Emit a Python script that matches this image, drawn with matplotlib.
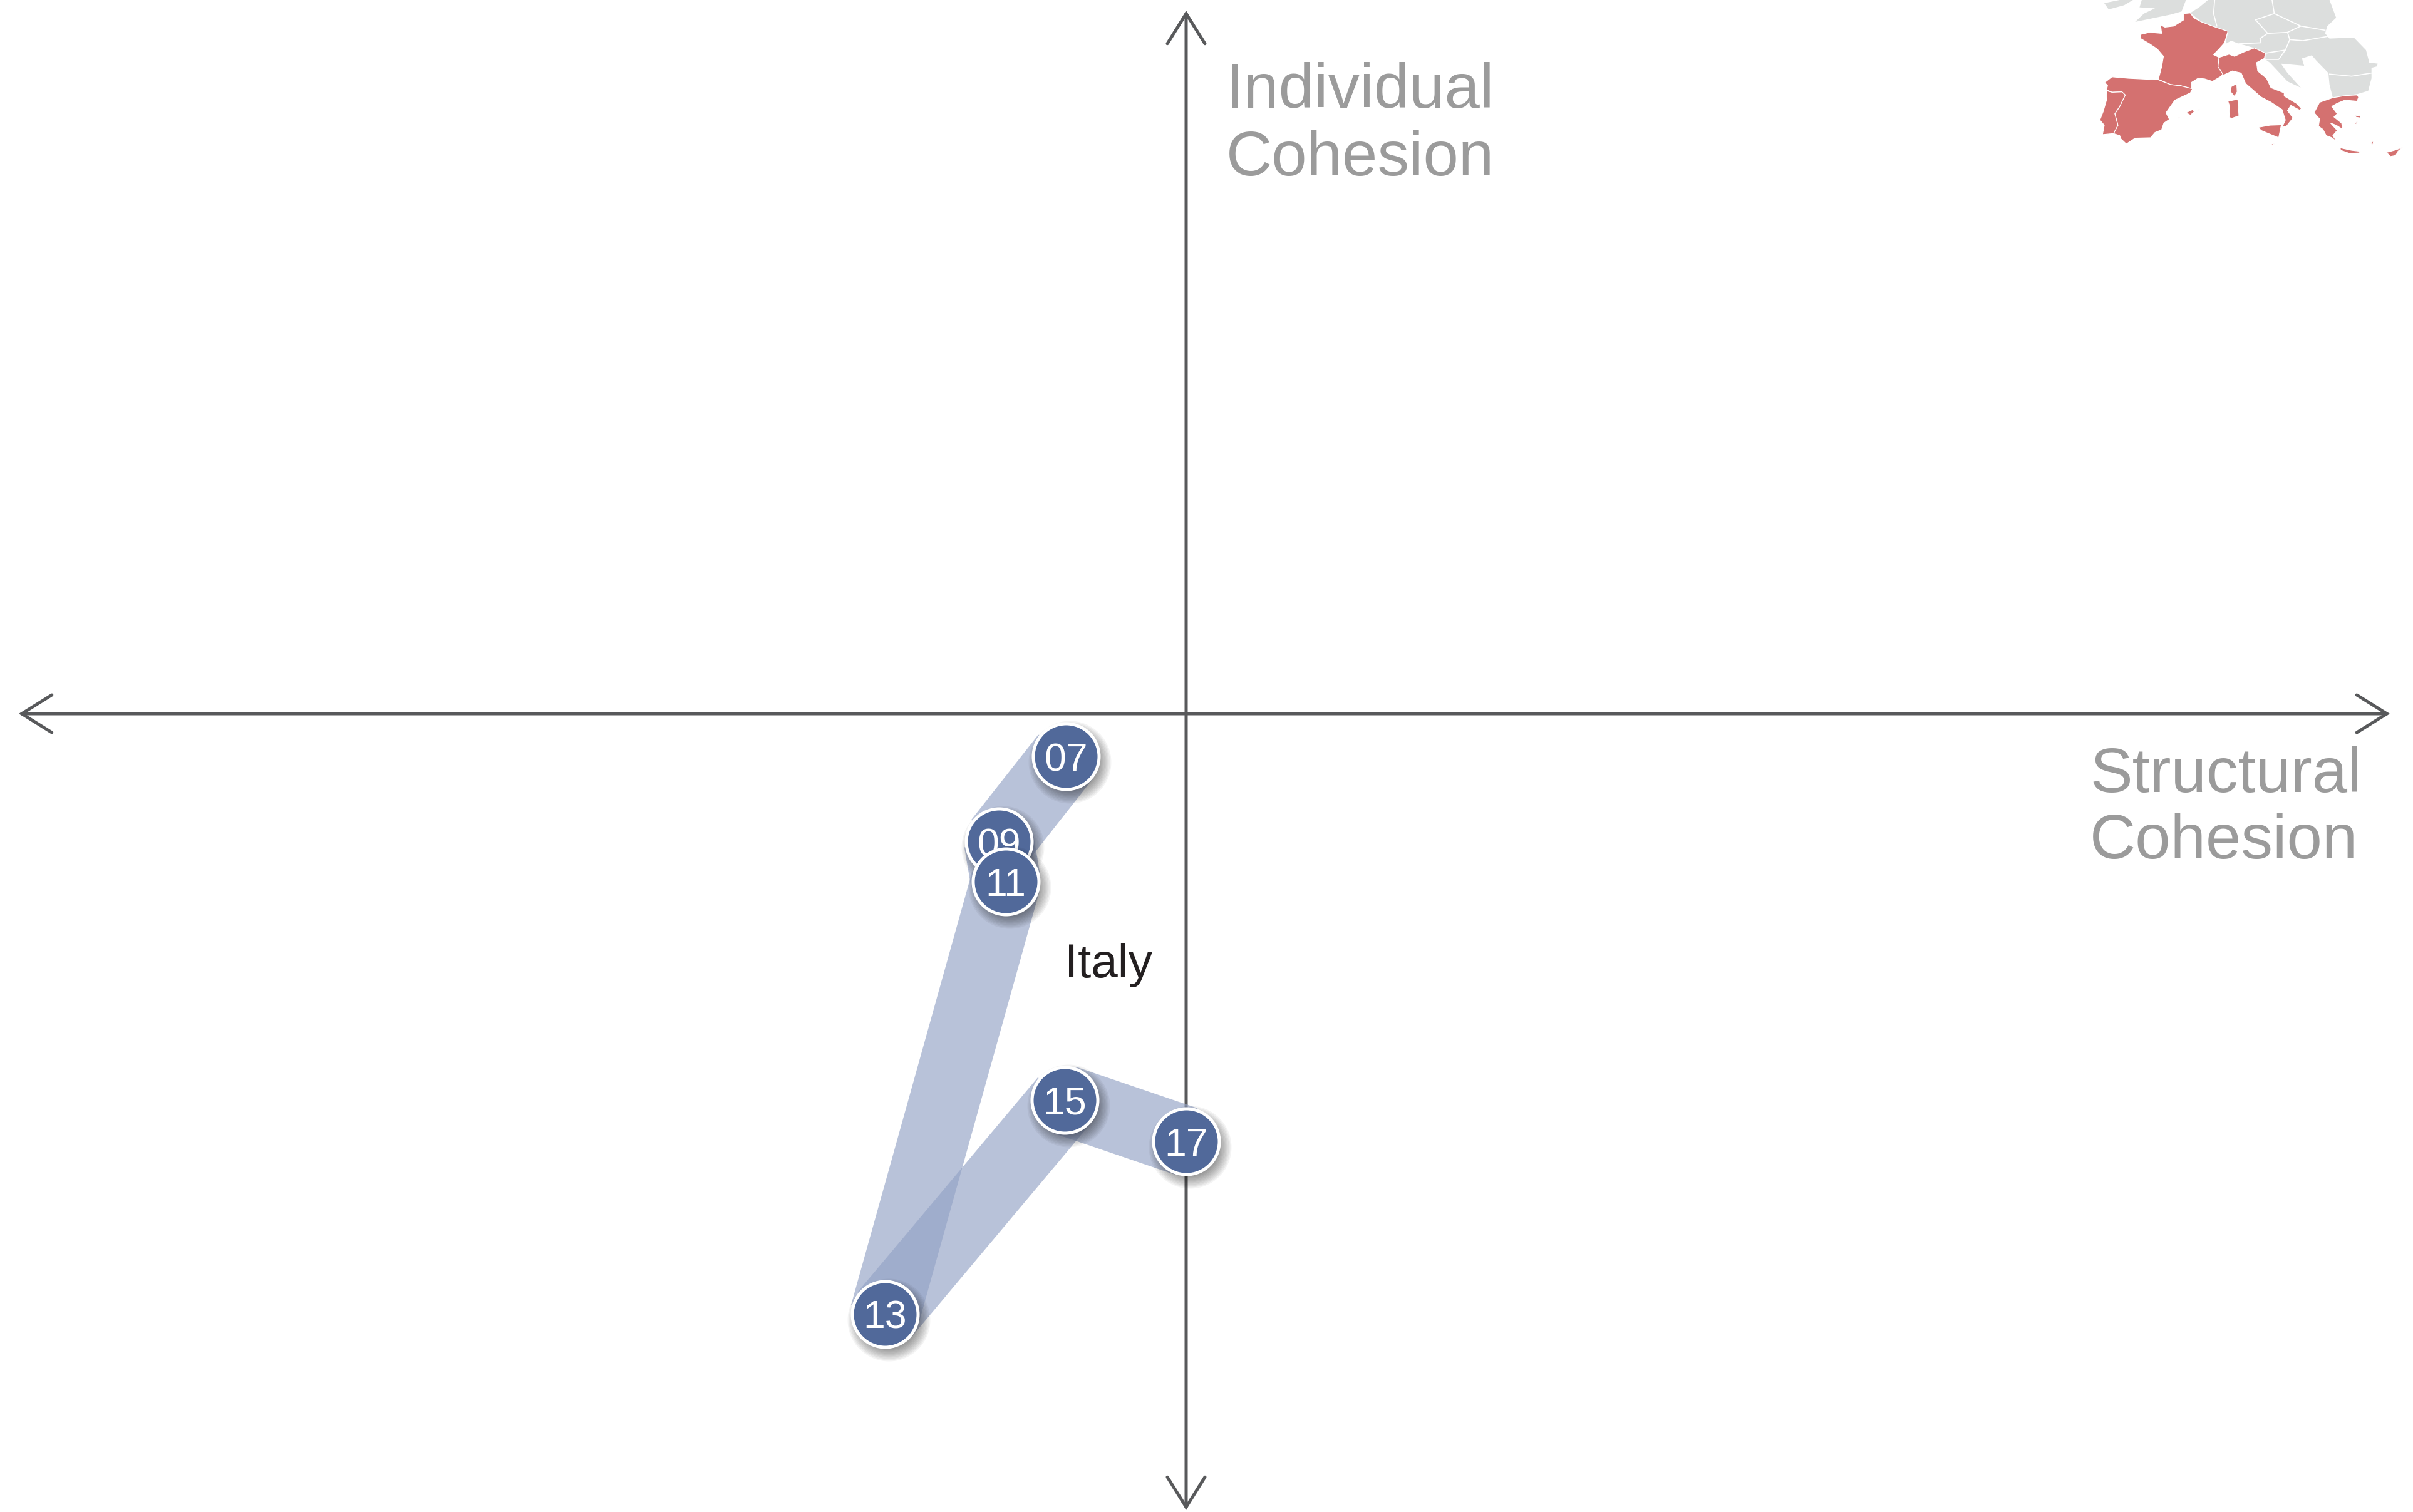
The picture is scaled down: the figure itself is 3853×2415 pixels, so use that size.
import numpy as np
import matplotlib
matplotlib.use('Agg')
import matplotlib.pyplot as plt
from matplotlib.patches import Polygon
from matplotlib.transforms import ScaledTranslation

# values, 1 unit = 100 px of the picture, origin where the axes cross
years = ['07', '09', '11', '13', '15', '17']
structural = [-1.92, -2.99, -2.88, -4.81, -1.94, 0.0]
individual = [-0.68, -2.04, -2.68, -9.59, -6.17, -6.83]
country = 'Italy'

# map outlines, traced in the crop of the top right corner
france = [(530,65),(560,62),(575,85),(610,105),(660,125),(730,150),(715,205),(690,235),(665,262),(690,275),(685,320),(710,350),(700,365),(660,390),(625,378),(595,375),(565,395),(565,425),(515,410),(470,405),(415,380),(430,320),(438,270),(410,235),(375,210),(335,185),(335,165),(375,155),(430,160),(425,120),(445,130),(485,125),(530,95)]
spain = [(205,368),(280,375),(415,382),(470,405),(520,412),(570,425),(560,445),(490,480),(450,540),(465,572),(440,590),(430,622),(400,635),(380,660),(310,662),(270,690),(245,665),(240,650),(212,640),(232,600),(218,545),(240,510),(265,455),(250,440),(205,442),(180,430),(185,410),(172,395)]
portugal = [(182,435),(205,442),(250,440),(265,455),(240,510),(218,545),(232,600),(212,640),(162,645),(170,600),(150,575),(165,535),(180,480)]
italy = [(690,275),(735,260),(760,270),(800,250),(850,230),(900,255),(895,280),(860,300),(865,340),(905,375),(925,420),(985,445),(985,460),(1040,495),(1063,520),(1055,528),(1015,505),(1000,530),(1025,565),(995,605),(975,610),(990,575),(975,525),(925,490),(880,465),(810,400),(790,350),(750,340),(710,360),(685,320)]
sicily = [(868,610),(920,600),(972,598),(960,660),(925,645),(880,625)]
sardinia = [(730,485),(775,475),(780,555),(745,568),(735,560),(738,510)]
corsica = [(770,400),(772,440),(760,462),(742,440),(745,415)]
mallorca = [(540,540),(570,525),(578,535),(560,552)]
menorca = [(585,522),(602,525),(595,530)]
ibiza = [(500,565),(512,562),(505,570)]
malta = [(925,688),(942,690),(930,695)]
greece = [(1205,468),(1260,458),(1315,455),(1322,465),(1315,485),(1260,480),(1225,495),(1200,510),(1225,545),(1210,560),(1245,590),(1250,620),(1220,600),(1195,590),(1225,625),(1205,650),(1225,680),(1200,660),(1175,650),(1160,620),(1140,605),(1145,570),(1120,540),(1145,490)]
crete = [(1238,708),(1290,720),(1330,725),(1325,733),(1280,735),(1240,720)]
cyprus = [(1448,730),(1490,718),(1522,705),(1500,725),(1490,745),(1465,750)]
lesbos = [(1305,552),(1328,555),(1330,565),(1310,562)]
rhodes = [(1375,685),(1390,675),(1385,695)]
chios = [(1305,590),(1318,580),(1310,598)]
south = [france, spain, portugal, italy, sicily, sardinia, corsica, mallorca, menorca, ibiza,
         malta, greece, crete, cyprus, lesbos, rhodes, chios]

centre_eu = [(640,0),(1190,0),(1220,85),(1180,125),(1170,160),(1190,185),(1300,180),(1355,240),(1370,300),(1408,305),(1405,318),(1380,325),(1380,375),(1365,435),(1318,450),(1260,458),(1205,468),(1190,405),(1185,350),(1130,290),(1110,265),(1065,280),(1075,315),(970,305),(1000,350),(1060,420),(1000,390),(920,300),(900,285),(900,255),(850,230),(800,215),(780,210),(745,195),(720,210),(730,150),(660,125),(610,105),(560,62),(600,35)]
ireland = [(170,15),(240,0),(300,0),(260,25),(190,45)]
britain = [(340,0),(540,0),(520,55),(470,70),(400,85),(310,105),(350,65),(400,40),(330,35)]
north = [centre_eu, ireland, britain]

borders = [
    [(930,0),(940,65),(855,95),(910,160),(1000,155),(1060,125),(1170,145)],
    [(940,65),(1060,125)],
    [(910,160),(875,185),(880,205),(780,210)],
    [(1000,155),(1010,190),(1070,195),(1180,175)],
    [(1010,190),(990,240),(900,255)],
    [(990,240),(960,285),(900,285)],
    [(1190,355),(1290,365),(1380,350)],
    [(670,0),(665,65),(680,125)],
]

W, H = 3853, 2415
DPI = 100
px = 72 / DPI

narrow = ['Liberation Sans Narrow', 'Liberation Sans', 'DejaVu Sans']
line_col = '#58595B'
label_col = '#9B9B9B'
dot_col = '#51699A'

fig = plt.figure(figsize=(W / DPI, H / DPI), dpi=DPI)
ax = fig.add_axes([0, 0, 1, 1])
ax.set_xlim(-18.94, 19.59)
ax.set_ylim(-12.75, 11.40)
ax.axis('off')

# axes with open arrow heads
head = 'arrowstyle=None'
style = '<->,head_length=%.1f,head_width=%.1f' % (48 * px, 30 * px)
for a, b in [((-18.64, 0), (19.22, 0)), ((0, 11.23), (0, -12.72))]:
    ax.annotate('', xy=b, xytext=a, zorder=2,
                arrowprops=dict(arrowstyle=style, color=line_col, lw=5 * px, mutation_scale=1,
                                shrinkA=0, shrinkB=0, capstyle='round', joinstyle='miter'))

# ribbons, one piece per step so the overlaps get darker
for i in range(len(years) - 1):
    ax.plot(structural[i:i + 2], individual[i:i + 2], color='#93A2C5', alpha=0.65,
            lw=112 * px, solid_capstyle='butt', zorder=3)

# dots, later years on top of the earlier ones
for i, yr in enumerate(years):
    z = 10 + i
    shift = ax.transData + ScaledTranslation(6 / DPI, -9 / DPI, fig.dpi_scale_trans)
    for d in np.linspace(88, 132, 12):
        ax.scatter(structural[i], individual[i], s=(d * px) ** 2, color='black', alpha=0.045,
                   linewidths=0, transform=shift, zorder=z)
    ax.scatter(structural[i], individual[i], s=(105 * px) ** 2, color=dot_col,
               edgecolors='white', linewidths=5 * px, zorder=z)
    ax.text(structural[i], individual[i], yr, color='white', fontsize=45, family=narrow,
            ha='center', va='center_baseline', zorder=z)

ax.text(-1.94, -4.21, country, color='#231F20', fontsize=55, family=narrow, ha='left', va='baseline', zorder=20)

# axis titles
ax.text(0.64, 9.68, 'Individual', color=label_col, fontsize=73, family=narrow, va='baseline')
ax.text(0.64, 8.60, 'Cohesion', color=label_col, fontsize=73, family=narrow, va='baseline')
ax.text(14.43, -1.25, 'Structural', color=label_col, fontsize=73, family=narrow, va='baseline')
ax.text(14.43, -2.31, 'Cohesion', color=label_col, fontsize=73, family=narrow, va='baseline')

# small map in the corner
mp = fig.add_axes([3300 / W, 1 - 270 / H, 553 / W, 270 / H])
mp.set_xlim(0, 1568)
mp.set_ylim(810, 0)
mp.axis('off')
for shape in north:
    mp.add_patch(Polygon(shape, closed=True, fc='#DCDEDD', ec='none'))
for b in borders:
    mp.plot(*zip(*b), color='white', lw=1.2)
for shape in south:
    mp.add_patch(Polygon(shape, closed=True, fc='#D47170', ec='white', lw=0.9))

fig.savefig('out.png', dpi=DPI)
